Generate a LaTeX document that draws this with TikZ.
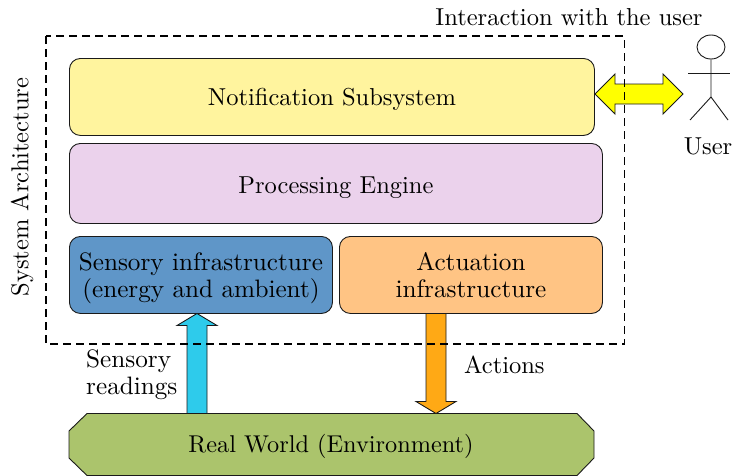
\documentclass[tikz,border=0pt]{standalone}
\usetikzlibrary{calc,shapes.geometric}
\font\lmten="[lmroman10-regular.otf]:mapping=tex-text" at 24.5pt
\font\lmtenb="[lmroman10-regular.otf]:mapping=tex-text" at 25.2pt
\font\lmtenc="[lmroman10-regular.otf]:mapping=tex-text" at 24.3pt
\newcommand{\txt}{\lmten\baselineskip=27pt\relax}
\newcommand{\txtb}{\lmtenb\baselineskip=27pt\relax}
\newcommand{\txtc}{\lmtenc\baselineskip=27pt\relax}
\definecolor{cyel}{HTML}{FFF49E}
\definecolor{cpur}{HTML}{EBD2EC}
\definecolor{cblu}{HTML}{5F96C8}
\definecolor{cora}{HTML}{FFC484}
\definecolor{cgrn}{HTML}{ABC46C}
\definecolor{ccya}{HTML}{2ECBEB}
\definecolor{carr}{HTML}{FFA915}
\definecolor{cdrk}{HTML}{1A1A1A}
\definecolor{cyarr}{HTML}{FFFF00}
\tikzset{
  panel/.style={draw=cdrk,line width=0.9pt,rounded corners=11pt,align=center,anchor=north west,inner sep=0pt,font=\txt,text=black},
  label/.style={font=\txt,text=black,align=center,inner sep=0pt},
  blockarrow/.style={draw=cdrk,line width=0.9pt,line join=miter},
  limb/.style={draw=cdrk,line width=0.9pt}
}
\begin{document}
\begin{tikzpicture}[x=1pt,y=-1pt]
\useasboundingbox (0,0) rectangle (733,475);
\node[panel,fill=cyel,minimum width=525pt,minimum height=77pt,text height=18pt,text depth=0pt] (notif) at (69,58) {Notification Subsystem};
\node[panel,fill=cpur,minimum width=533pt,minimum height=80pt,text height=20pt,text depth=0pt] (proc) at (69,143) {Processing Engine};
\node[panel,fill=cblu,minimum width=263pt,minimum height=77pt,font=\txtb,text depth=0pt] (sens) at (69,236) {Sensory infrastructure\\(energy and ambient)};
\node[panel,fill=cora,minimum width=263pt,minimum height=77pt,font=\txtb] (act) at (339,236) {Actuation\\infrastructure};
% real world
\draw[draw=cdrk,fill=cgrn,line width=0.9pt] (87,413.5) -- (577,413.5) -- (594,431) -- (594,458) -- (577,475.5) -- (87,475.5) -- (69,458) -- (69,431) -- cycle;
\node[label,font=\txtc] (world) at (331,446.5) {Real World (Environment)};
% sensory arrow
\coordinate (su) at (197,313.5);
\draw[blockarrow,fill=ccya] (su) -- ++(20,12) -- ++(-10,0) -- ++(0,88) -- ++(-20,0) -- ++(0,-88) -- ++(-10,0) -- cycle;
% actuation arrow
\coordinate (ad) at (436,413.5);
\draw[blockarrow,fill=carr] (ad) -- ++(20,-12) -- ++(-10,0) -- ++(0,-88) -- ++(-20,0) -- ++(0,88) -- ++(-10,0) -- cycle;
% user arrow
\coordinate (ul) at (595,94);
\draw[blockarrow,fill=cyarr] (ul) -- ++(20,-20) -- ++(0,10) -- ++(48,0) -- ++(0,-10) -- ++(20,20) -- ++(-20,20) -- ++(0,-10) -- ++(-48,0) -- ++(0,10) -- cycle;
% dashed
\draw[black,line width=1.5pt,dash pattern=on 8pt off 5pt] (46,36) rectangle (624.5,344);
% labels
\node[label,rotate=90] (sys) at (22,187) {System Architecture};
\node[label] (inter) at (569,17.5) {Interaction with the user};
\node[label,font=\txtb,align=left,anchor=north west] (reads) at (86,350) {Sensory\\readings};
\node[label,anchor=west] (acts) at (464,365) {Actions};
\node[label] (user) at (708,146) {User};
% stick figure
\node[draw=cdrk,line width=0.9pt,ellipse,minimum width=28pt,minimum height=24pt,inner sep=0pt] (headn) at (711,47) {};
\draw[limb] (headn.south) -- (711,97) -- (690,120);
\draw[limb] (711,97) -- (728,120);
\draw[limb] (688,73) -- (730,73);
\end{tikzpicture}
\end{document}
